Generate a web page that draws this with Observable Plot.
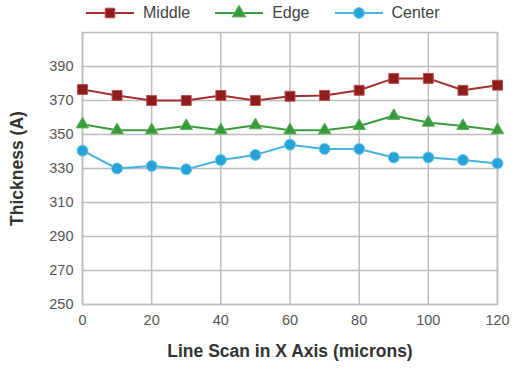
<!DOCTYPE html>
<html><head><meta charset="utf-8">
<script src="https://cdn.jsdelivr.net/npm/d3@7"></script>
<script src="https://cdn.jsdelivr.net/npm/@observablehq/plot@0.6"></script>
<style>
html,body{margin:0;padding:0;background:#fff;}
body{width:517px;height:369px;overflow:hidden;font-family:"Liberation Sans",Arial,sans-serif;}
#legend{height:26px;display:flex;align-items:center;padding-left:86px;font-size:16px;color:#444;}
.item{display:flex;align-items:center;margin-right:25px;}
.item svg{margin-right:9px;}
</style></head><body>
<div id="legend"></div>
<div id="chart"></div>
<script>
const xValues = [0, 10, 20, 30, 40, 50, 60, 70, 80, 90, 100, 110, 120];
const middle = [376.5, 373, 370, 370, 373, 370, 372.5, 373, 376, 383, 383, 376, 379];
const edge   = [356, 352.5, 352.5, 355, 352.5, 355.5, 352.5, 352.5, 355, 361, 357, 355, 352.5];
const center = [340.5, 330, 331.5, 329.5, 335, 338, 344, 341.5, 341.5, 336.5, 336.5, 335, 333];
const seriesNames = ["Middle", "Edge", "Center"];
const yTicks = [250, 270, 290, 310, 330, 350, 370, 390];
const xTicks = [0, 20, 40, 60, 80, 100, 120];

const styles = {
  Middle: {line: "#a3302f", fill: "#8e1c1c", stroke: "#b8504c", symbol: "square", r: 5.6},
  Edge:   {line: "#3c9c3c", fill: "#3a9a3a", stroke: "#55b055", symbol: "triangle", r: 4.6},
  Center: {line: "#45b2de", fill: "#27a3d8", stroke: "#6fc8ec", symbol: "circle", r: 5.5}
};
const seriesValues = {Middle: middle, Edge: edge, Center: center};
const data = seriesNames.flatMap(s => xValues.map((x, i) => ({series: s, x, y: seriesValues[s][i]})));

// legend
const legend = document.getElementById("legend");
for (const s of seriesNames) {
  const st = styles[s];
  const item = document.createElement("div");
  item.className = "item";
  const lr = s === "Edge" ? 5 : 5.4;
  const sym = d3.symbol(s === "Middle" ? d3.symbolSquare : s === "Edge" ? d3.symbolTriangle : d3.symbolCircle, Math.PI * lr * lr)();
  item.innerHTML = `<svg width="48" height="16"><line x1="0" x2="48" y1="8" y2="8" stroke="${st.line}" stroke-width="2"/><path d="${sym}" transform="translate(24,8)" fill="${st.fill}" stroke="${st.stroke}" stroke-width="1"/></svg><span>${s}</span>`;
  legend.appendChild(item);
}

const marks = [
  Plot.gridY(yTicks, {stroke: "#bdbdbd", strokeOpacity: 1, strokeWidth: 1.5}),
  Plot.gridX(xTicks, {stroke: "#bdbdbd", strokeOpacity: 1, strokeWidth: 1.5}),
  Plot.frame({stroke: "#bdbdbd", strokeWidth: 1.5}),
  Plot.axisY(yTicks, {tickSize: 0, tickPadding: 9, fontSize: 14.5, color: "#555", label: "Thickness (A)", labelAnchor: "center", labelOffset: 72, labelArrow: false}),
  Plot.axisX(xTicks, {tickSize: 0, tickPadding: 10, fontSize: 14.5, color: "#555", label: "Line Scan in X Axis (microns)", labelAnchor: "center", labelOffset: 52, labelArrow: false})
];
for (const s of seriesNames) {
  const st = styles[s];
  const d = data.filter(v => v.series === s);
  marks.push(Plot.line(d, {x: "x", y: "y", stroke: st.line, strokeWidth: 2}));
  marks.push(Plot.dot(d, {x: "x", y: "y", symbol: st.symbol, r: st.r, fill: st.fill, stroke: st.stroke, strokeWidth: 1}));
}

const chart = Plot.plot({
  width: 517,
  height: 343,
  marginLeft: 82,
  marginRight: 20,
  marginTop: 6,
  marginBottom: 65,
  style: {fontFamily: "Liberation Sans, Arial, sans-serif", background: "#fff"},
  x: {domain: [0, 120]},
  y: {domain: [250, 410]},
  marks
});
document.getElementById("chart").appendChild(chart);
// style axis labels bold
chart.querySelectorAll("[aria-label='x-axis label'] text, [aria-label='y-axis label'] text").forEach(t => {
  t.setAttribute("font-weight", "bold");
  t.setAttribute("font-size", "17.5");
  t.setAttribute("fill", "#333");
});
</script>
</body></html>
